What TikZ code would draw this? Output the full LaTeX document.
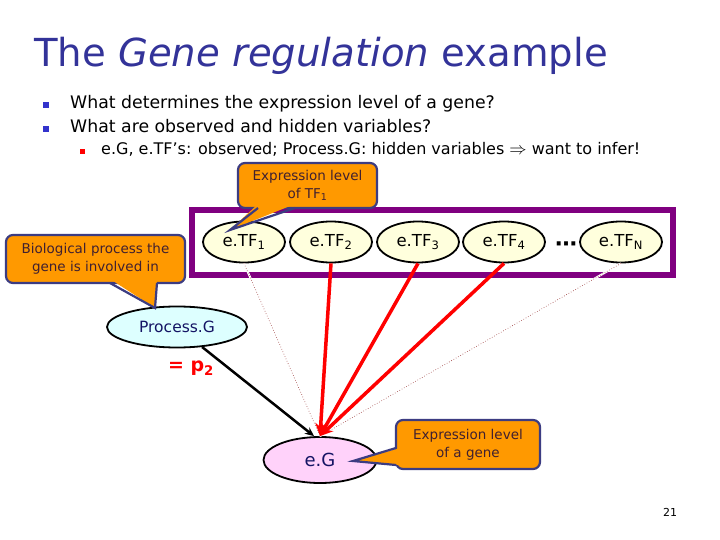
\documentclass[tikz,border=0pt]{standalone}
\usepackage{fontspec}
\setmainfont{DejaVu Sans}
\usepackage{amsmath}
\usetikzlibrary{arrows.meta,positioning,shapes.geometric}
\definecolor{titleblue}{RGB}{51,51,153}
\definecolor{bulletblue}{RGB}{51,51,204}
\definecolor{framepurple}{RGB}{128,0,128}
\definecolor{calloutfill}{RGB}{255,153,0}
\definecolor{calloutline}{RGB}{60,60,130}
\definecolor{callouttext}{RGB}{64,32,48}
\definecolor{tffill}{RGB}{255,255,221}
\definecolor{procfill}{RGB}{221,255,255}
\definecolor{genefill}{RGB}{255,210,250}
\definecolor{navytext}{RGB}{20,20,100}
\definecolor{dotbrown}{RGB}{150,50,50}

\begin{document}
\begin{tikzpicture}[x=1pt,y=-1pt,>=Stealth,
    tf/.style={ellipse,draw,line width=1.8pt,fill=tffill,minimum width=82pt,
      minimum height=41pt,inner sep=0pt,font=\fontsize{16.5}{18}\selectfont},
    callout/.style={draw=calloutline,line width=2.2pt,fill=calloutfill,
      rounded corners=7pt,align=center,text=callouttext,inner sep=0pt,
      font=\fontsize{13.5}{18}\selectfont},
    redge/.style={red,line width=3.5pt,-{Stealth[length=13pt,width=11pt]}},
    dotedge/.style={dotbrown,line width=0.6pt,dotted,
      preaction={draw=white,line width=2pt,solid}}]
  \fill[white] (0,0) rectangle (720,540);
  \useasboundingbox (0,0) rectangle (720,540);

  \node[anchor=base west,inner sep=0pt,text=titleblue,font=\fontsize{38.6}{40}\selectfont]
        (title) at (34,67) {The \textit{Gene regulation} example};
  \fill[bulletblue] (43,102) rectangle (49,108);
  \node[anchor=base west,inner sep=0pt,font=\fontsize{17.3}{20}\selectfont]
        (q1) at (70,109) {What determines the expression level of a gene?};
  \fill[bulletblue] (43,126) rectangle (49,132);
  \node[anchor=base west,inner sep=0pt,font=\fontsize{17.3}{20}\selectfont]
        (q2) at (70,133) {What are observed and hidden variables?};
  \fill[red] (80,149) rectangle (85,154);
  \node[anchor=base west,inner sep=0pt,font=\fontsize{16}{18}\selectfont]
        (q3) at (101,155) {e.G, e.TF’s: observed; Process.G: hidden variables $\Rightarrow$ want to infer!};

  \draw[framepurple,line width=6pt] (192,210) rectangle (673,275);

  \node[tf] (tf1) at (244,242) {e.TF\textsubscript{1}};
  \node[tf] (tf2) at (331,242) {e.TF\textsubscript{2}};
  \node[tf] (tf3) at (418,242) {e.TF\textsubscript{3}};
  \node[tf] (tf4) at (504,242) {e.TF\textsubscript{4}};
  \node[inner sep=0pt,font=\bfseries\fontsize{22}{22}\selectfont] (ellip) at (566,247) {⋯};
  \node[tf] (tfn) at (621,242) {e.TF\textsubscript{N}};

  \node[ellipse,draw,line width=1.8pt,fill=procfill,minimum width=140pt,minimum height=41pt,
        inner sep=0pt,text=navytext,font=\fontsize{15.5}{17}\selectfont]
        (proc) at (177,327) {Process.G};
  \node[text=red,inner sep=0pt,font=\bfseries\fontsize{19}{20}\selectfont]
        (ptwo) at (191,368) {= p\textsubscript{2}};
  \node[ellipse,draw,line width=1.8pt,fill=genefill,minimum width=113pt,minimum height=46pt,
        inner sep=0pt,text=navytext,font=\fontsize{18}{20}\selectfont]
        (eg) at (320,460) {e.G};

  \draw[dotedge] (tf1.south) -- (eg.north);
  \draw[dotedge] (tfn.south) -- (eg.north);
  \draw[line width=2.5pt,-{Stealth[length=9pt,width=8pt]}] (proc) -- ([xshift=-6pt]eg.north);
  \draw[redge] (tf2.south) -- (eg.north);
  \draw[redge] (tf3.south) -- (eg.north);
  \draw[redge] (tf4.south) -- (eg.north);

  \node[callout,minimum width=139pt,minimum height=45pt] (tfnote) at (307.5,185.5)
        {Expression level\\of TF\textsubscript{1}};
  \fill[calloutfill] (258,204) -- (230,230) -- (295,204) -- cycle;
  \draw[calloutline,line width=2.2pt] (258,208) -- (230,230) -- (295,208);

  \node[callout,minimum width=179pt,minimum height=48pt] (procnote) at (95.5,259)
        {Biological process the\\gene is involved in};
  \fill[calloutfill] (110,279) -- (155,308) -- (157,279) -- cycle;
  \draw[calloutline,line width=2.2pt] (110,283) -- (155,308) -- (157,283);

  \node[callout,minimum width=144pt,minimum height=49pt] (genenote) at (468,444.5)
        {Expression level\\of a gene};
  \fill[calloutfill] (400,448) -- (353,461) -- (400,465) -- cycle;
  \draw[calloutline,line width=2.2pt] (396,448) -- (353,461) -- (396,465);

  \node[inner sep=0pt,font=\fontsize{11}{12}\selectfont] (pg) at (670,512) {21};
\end{tikzpicture}
\end{document}
